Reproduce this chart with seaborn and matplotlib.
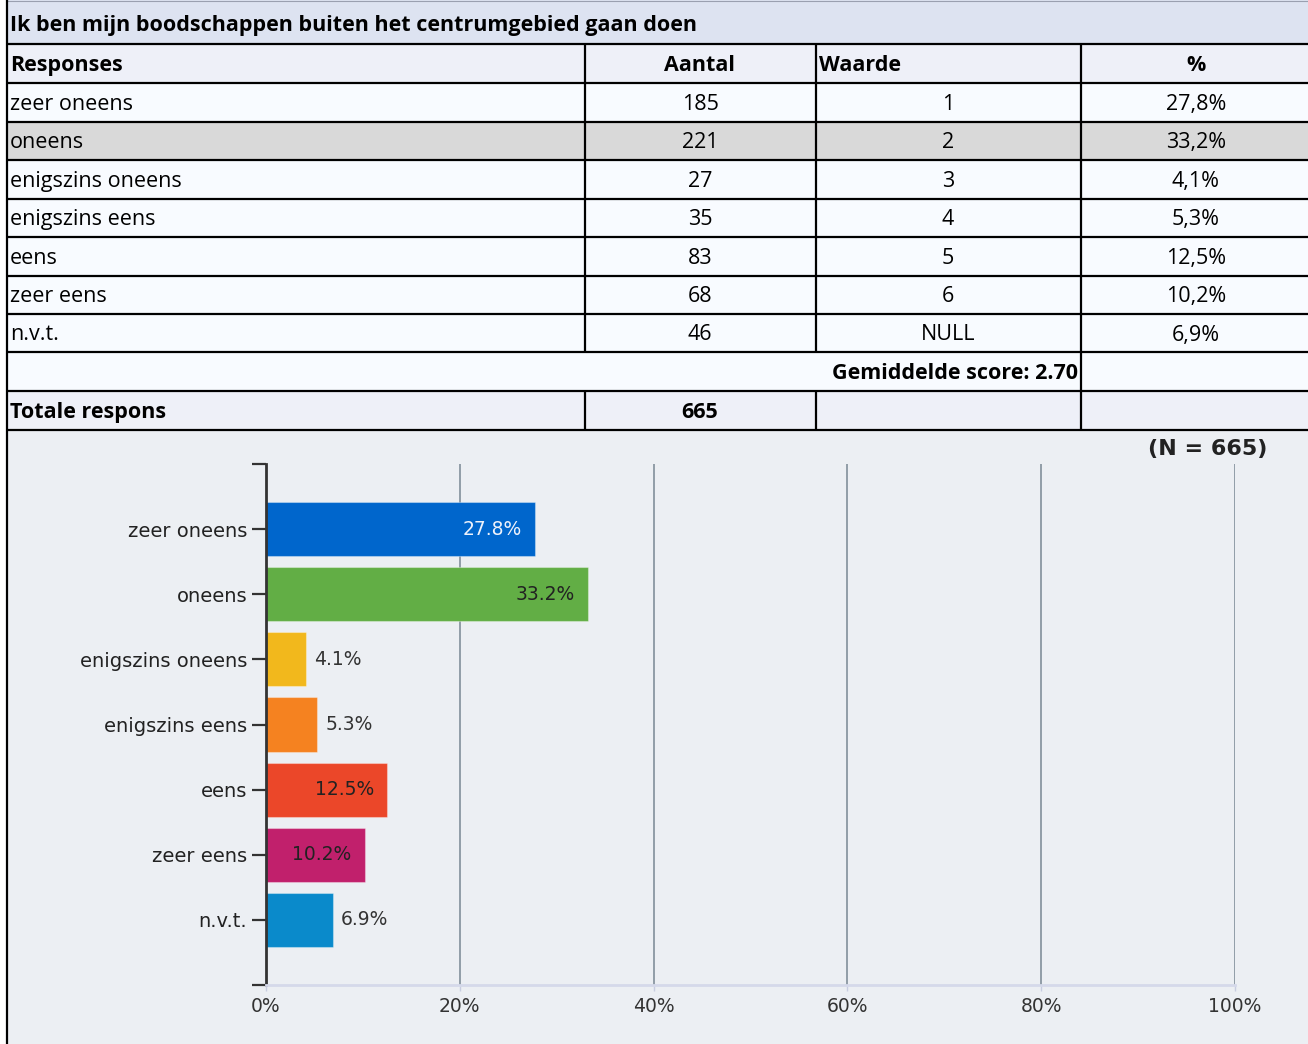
import matplotlib
matplotlib.use('Agg')
import matplotlib.pyplot as plt
import seaborn as sns
import pandas as pd
from matplotlib.patches import Rectangle

# Gegevens uit de tabel
titel = 'Ik ben mijn boodschappen buiten het centrumgebied gaan doen'
kolommen = ['Responses', 'Aantal', 'Waarde', '%']
responses = ['zeer oneens', 'oneens', 'enigszins oneens', 'enigszins eens',
             'eens', 'zeer eens', 'n.v.t.']
aantal = [185, 221, 27, 35, 83, 68, 46]
waarde = ['1', '2', '3', '4', '5', '6', 'NULL']
percentages = [27.8, 33.2, 4.1, 5.3, 12.5, 10.2, 6.9]
totaal = 665
gemiddelde = 2.70
kleuren = ['#0066cc', '#62ae45', '#f2b81c', '#f58220', '#eb4729', '#c1206c', '#0a8acb']

W, H = 1308, 1044
sns.set_style('white')
tabel_font = 'Open Sans'
grafiek_font = 'DejaVu Sans'

fig = plt.figure(figsize=(W / 100, H / 100), dpi=100)
fig.patch.set_facecolor('white')

# achtergrond-assen in pixelcoordinaten voor de tabel
bg = fig.add_axes([0, 0, 1, 1])
bg.set_xlim(0, W)
bg.set_ylim(H, 0)
bg.axis('off')

bg.add_patch(Rectangle((7, 430), W - 7, H - 430, color='#eceff3', lw=0))

rij_randen = [0, 44, 83, 121.5, 160, 198.5, 237, 275.5, 314, 352, 391, 430]
vulling = ['#dde3f1', '#eef0f8'] + ['#f8fbff'] * 7 + ['#f8fbff', '#eef0f8']
vulling[3] = '#d9d9d9'
kol_x = [7, 585, 816, 1081, W]

for i in range(len(rij_randen) - 1):
    y0, y1 = rij_randen[i], rij_randen[i + 1]
    bg.add_patch(Rectangle((7, y0), W - 7, y1 - y0, color=vulling[i], lw=0))

# lijnen
lw = 1.6
bg.plot([7, W], [0.5, 0.5], color='#9aa0b0', lw=0.8)
for y in rij_randen[1:]:
    bg.plot([7, W], [y, y], color='black', lw=lw, solid_capstyle='butt')
bg.plot([7, 7], [0, H], color='black', lw=lw, solid_capstyle='butt')
for x in kol_x[1:4]:
    bg.plot([x, x], [44, 352], color='black', lw=lw, solid_capstyle='butt')
    bg.plot([x, x], [391, 430], color='black', lw=lw, solid_capstyle='butt')
bg.plot([1081, 1081], [352, 391], color='black', lw=lw, solid_capstyle='butt')

fs = 15.5
tk = dict(va='center', fontsize=fs, family=tabel_font, color='black')
def midden(i):
    return (rij_randen[i] + rij_randen[i + 1]) / 2 + 2

bg.text(10, midden(0) + 1, titel, ha='left', fontweight='bold', **tk)
bg.text(10, midden(1), kolommen[0], ha='left', fontweight='bold', **tk)
bg.text(700, midden(1), kolommen[1], ha='center', fontweight='bold', **tk)
bg.text(819, midden(1), kolommen[2], ha='left', fontweight='bold', **tk)
bg.text(1196, midden(1), kolommen[3], ha='center', fontweight='bold', **tk)

for j, resp in enumerate(responses):
    yy = midden(j + 2)
    bg.text(10, yy, resp, ha='left', **tk)
    bg.text(700, yy, str(aantal[j]), ha='center', **tk)
    bg.text(948, yy, waarde[j], ha='center', **tk)
    bg.text(1196, yy, f'{percentages[j]:.1f}'.replace('.', ',') + '%', ha='center', **tk)

bg.text(1078, midden(9), f'Gemiddelde score: {gemiddelde:.2f}', ha='right',
        fontweight='bold', **tk)
bg.text(10, midden(10), 'Totale respons', ha='left', fontweight='bold', **tk)
bg.text(700, midden(10), str(totaal), ha='center', fontweight='bold', **tk)

bg.text(1208, 449, f'(N = {totaal})', ha='center', va='center', fontsize=16,
        fontweight='bold', family=grafiek_font, color='#222222')

# grafiek
ax = fig.add_axes([266 / W, (H - 985) / H, (1235 - 266) / W, (985 - 464) / H])
ax.set_facecolor('none')
df = pd.DataFrame({'Response': responses, 'Percentage': percentages})
sns.barplot(data=df, x='Percentage', y='Response', hue='Response', palette=kleuren,
            legend=False, orient='h', width=0.83, saturation=1, ax=ax,
            edgecolor='#ffffff55', linewidth=0.8)

ax.set_xlim(0, 100)
ax.set_ylim(7, -1)
ax.set_yticks(range(-1, 8))
ax.set_yticklabels([''] + responses + [''], family=grafiek_font, fontsize=14,
                   color='#222222')
ax.set_xticks([0, 20, 40, 60, 80, 100])
ax.set_xticklabels([f'{t}%' for t in [0, 20, 40, 60, 80, 100]], family=grafiek_font,
                   fontsize=13.5, color='#333333')
ax.set_xlabel('')
ax.set_ylabel('')
ax.set_axisbelow(True)
ax.grid(axis='x', color='#8a97a2', lw=1.3)
ax.grid(axis='y', visible=False)
for s in ['top', 'right']:
    ax.spines[s].set_visible(False)
ax.spines['left'].set_color('#333333')
ax.spines['left'].set_linewidth(2)
ax.spines['bottom'].set_color('#d5d9ea')
ax.spines['bottom'].set_linewidth(2)
ax.tick_params(axis='y', length=10, width=1.6, color='#333333', pad=3.5, left=True)
ax.tick_params(axis='x', length=4, width=1, color='#c8cde0', pad=5, bottom=True)

for i, v in enumerate(percentages):
    if v > 10:
        kleur = '#eef2fb' if i == 0 else '#222222'
        ax.annotate(f'{v:.1f}%', (v, i), xytext=(-9.5, 0), textcoords='offset points',
                    ha='right', va='center', fontsize=13.5, family=grafiek_font, color=kleur)
    else:
        ax.annotate(f'{v:.1f}%', (v, i), xytext=(6, 0), textcoords='offset points',
                    ha='left', va='center', fontsize=13.5, family=grafiek_font,
                    color='#333333')

fig.savefig('out.png', dpi=100)
